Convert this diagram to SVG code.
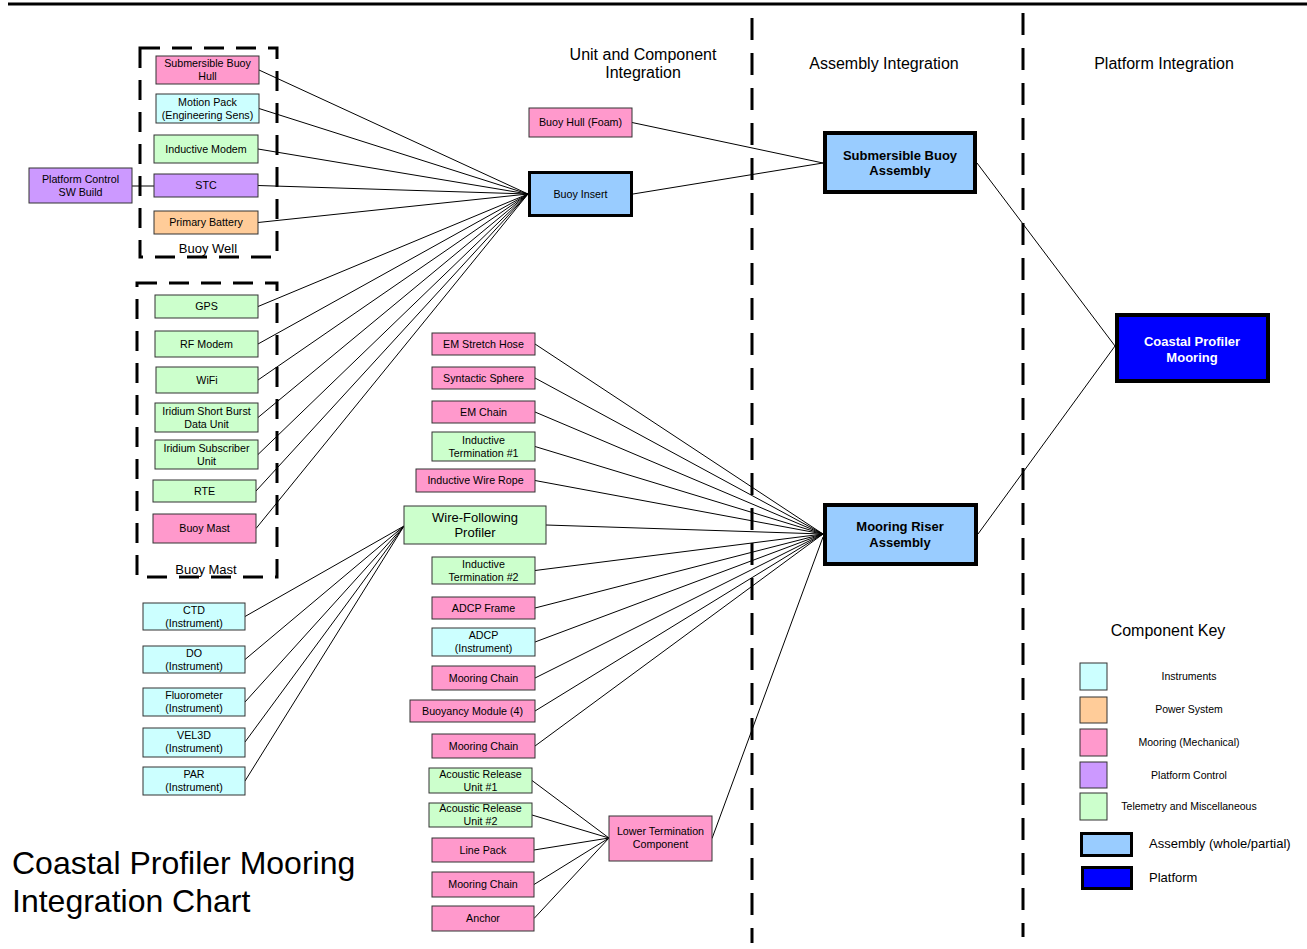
<svg xmlns="http://www.w3.org/2000/svg" width="1307" height="949" viewBox="0 0 1307 949">
<style>
text{font-family:"Liberation Sans",Arial,sans-serif;fill:#000}
.s{font-size:10.7px;text-anchor:middle}
.m{font-size:13px;text-anchor:middle}
.b{font-size:13px;font-weight:bold;text-anchor:middle}
.h{font-size:16px;text-anchor:middle}
.k{font-size:10.5px;text-anchor:middle}
.n{stroke:#333;stroke-width:1}
.t3{stroke:#000;stroke-width:3}
.t4{stroke:#000;stroke-width:4}
.pk{fill:#FF99CC}.cy{fill:#CCFFFF}.gr{fill:#CCFFCC}.pu{fill:#CC99FF}.or{fill:#FFCC99}.lb{fill:#99CCFF}.bl{fill:#0000FF}
.dash{fill:none;stroke:#000;stroke-width:3;stroke-dasharray:22 13}
.bdash{fill:none;stroke:#000;stroke-width:3;stroke-dasharray:20 12}
#connectors line{stroke:#000;stroke-width:1}
</style>
<rect width="1307" height="949" fill="#fff"/>
<g id="frame">
<line x1="8" y1="4" x2="1307" y2="4" stroke="#000" stroke-width="3"/>
<line class="dash" x1="752" y1="18" x2="752" y2="943"/>
<line class="dash" x1="1023" y1="13" x2="1023" y2="937"/>
<rect class="bdash" x="140" y="48" width="137" height="209"/>
<rect class="bdash" x="137" y="283" width="140" height="294"/>
<text class="m" x="208" y="253">Buoy Well</text>
<text class="m" x="206" y="574">Buoy Mast</text>
<text class="h" x="643" y="60">Unit and Component</text>
<text class="h" x="643" y="78">Integration</text>
<text class="h" x="884" y="69">Assembly Integration</text>
<text class="h" x="1164" y="69">Platform Integration</text>
<text x="12" y="874" font-size="32">Coastal Profiler Mooring</text>
<text x="12" y="912" font-size="32">Integration Chart</text>
</g>
<g id="connectors">
<line x1="132" y1="186" x2="154" y2="186"/>
<line x1="259" y1="70" x2="528" y2="194"/>
<line x1="259" y1="108.5" x2="528" y2="194"/>
<line x1="258" y1="149" x2="528" y2="194"/>
<line x1="258" y1="185.5" x2="528" y2="194"/>
<line x1="258" y1="222.5" x2="528" y2="194"/>
<line x1="258" y1="306.5" x2="528" y2="194"/>
<line x1="258" y1="344" x2="528" y2="194"/>
<line x1="258" y1="380" x2="528" y2="194"/>
<line x1="258" y1="417.5" x2="528" y2="194"/>
<line x1="258" y1="454.5" x2="528" y2="194"/>
<line x1="256" y1="491" x2="528" y2="194"/>
<line x1="256" y1="528.5" x2="528" y2="194"/>
<line x1="632" y1="122.5" x2="823" y2="163"/>
<line x1="633" y1="194" x2="823" y2="163"/>
<line x1="977" y1="163" x2="1115" y2="346"/>
<line x1="978" y1="534" x2="1115" y2="346"/>
<line x1="535" y1="344" x2="823" y2="534"/>
<line x1="535" y1="378" x2="823" y2="534"/>
<line x1="535" y1="412" x2="823" y2="534"/>
<line x1="535" y1="446.5" x2="823" y2="534"/>
<line x1="535" y1="480.5" x2="823" y2="534"/>
<line x1="546" y1="525" x2="823" y2="534"/>
<line x1="535" y1="570.5" x2="823" y2="534"/>
<line x1="535" y1="608" x2="823" y2="534"/>
<line x1="535" y1="642" x2="823" y2="534"/>
<line x1="535" y1="678" x2="823" y2="534"/>
<line x1="535" y1="711" x2="823" y2="534"/>
<line x1="535" y1="746" x2="823" y2="534"/>
<line x1="712" y1="838.5" x2="823" y2="537"/>
<line x1="532" y1="780.5" x2="609" y2="838"/>
<line x1="532" y1="815" x2="609" y2="838"/>
<line x1="534" y1="850" x2="609" y2="838"/>
<line x1="534" y1="884.5" x2="609" y2="838"/>
<line x1="534" y1="918.5" x2="609" y2="838"/>
<line x1="245" y1="616.5" x2="404" y2="526"/>
<line x1="245" y1="659.5" x2="404" y2="526"/>
<line x1="245" y1="702" x2="404" y2="526"/>
<line x1="245" y1="742" x2="404" y2="526"/>
<line x1="245" y1="781" x2="404" y2="526"/>
</g>
<g id="n-sbh"><rect class="n pk" x="156" y="56" width="103" height="28"/><text class="s" x="207.5" y="67.3">Submersible Buoy</text><text class="s" x="207.5" y="80.3">Hull</text></g>
<g id="n-mp"><rect class="n cy" x="156" y="94" width="103" height="29"/><text class="s" x="207.5" y="105.8">Motion Pack</text><text class="s" x="207.5" y="118.8">(Engineering Sens)</text></g>
<g id="n-im"><rect class="n gr" x="154" y="135" width="104" height="28"/><text class="s" x="206" y="152.8">Inductive Modem</text></g>
<g id="n-stc"><rect class="n pu" x="154" y="174" width="104" height="23"/><text class="s" x="206" y="189.3">STC</text></g>
<g id="n-pb"><rect class="n or" x="154" y="211" width="104" height="23"/><text class="s" x="206" y="226.3">Primary Battery</text></g>
<g id="n-pcsw"><rect class="n pu" x="29" y="168" width="103" height="35"/><text class="s" x="80.5" y="182.8">Platform Control</text><text class="s" x="80.5" y="195.8">SW Build</text></g>
<g id="n-gps"><rect class="n gr" x="155" y="295" width="103" height="23"/><text class="s" x="206.5" y="310.3">GPS</text></g>
<g id="n-rf"><rect class="n gr" x="155" y="331" width="103" height="26"/><text class="s" x="206.5" y="347.8">RF Modem</text></g>
<g id="n-wifi"><rect class="n gr" x="156" y="367" width="102" height="26"/><text class="s" x="207" y="383.8">WiFi</text></g>
<g id="n-isbd"><rect class="n gr" x="155" y="403" width="103" height="29"/><text class="s" x="206.5" y="414.8">Iridium Short Burst</text><text class="s" x="206.5" y="427.8">Data Unit</text></g>
<g id="n-isu"><rect class="n gr" x="155" y="440" width="103" height="29"/><text class="s" x="206.5" y="451.8">Iridium Subscriber</text><text class="s" x="206.5" y="464.8">Unit</text></g>
<g id="n-rte"><rect class="n gr" x="153" y="480" width="103" height="22"/><text class="s" x="204.5" y="494.8">RTE</text></g>
<g id="n-bm"><rect class="n pk" x="153" y="514" width="103" height="29"/><text class="s" x="204.5" y="532.3">Buoy Mast</text></g>
<g id="n-ctd"><rect class="n cy" x="143" y="603" width="102" height="27"/><text class="s" x="194" y="613.8">CTD</text><text class="s" x="194" y="626.8">(Instrument)</text></g>
<g id="n-do"><rect class="n cy" x="143" y="646" width="102" height="27"/><text class="s" x="194" y="656.8">DO</text><text class="s" x="194" y="669.8">(Instrument)</text></g>
<g id="n-fl"><rect class="n cy" x="143" y="688" width="102" height="28"/><text class="s" x="194" y="699.3">Fluorometer</text><text class="s" x="194" y="712.3">(Instrument)</text></g>
<g id="n-vel"><rect class="n cy" x="143" y="728" width="102" height="29"/><text class="s" x="194" y="739.3">VEL3D</text><text class="s" x="194" y="752.3">(Instrument)</text></g>
<g id="n-par"><rect class="n cy" x="143" y="767" width="102" height="28"/><text class="s" x="194" y="778.3">PAR</text><text class="s" x="194" y="791.3">(Instrument)</text></g>
<g id="n-bhf"><rect class="n pk" x="529" y="108" width="103" height="29"/><text class="s" x="580.5" y="126.3">Buoy Hull (Foam)</text></g>
<g id="n-bi"><rect class="t3 lb" x="529.5" y="172.5" width="102" height="43"/><text class="s" x="580.5" y="198">Buoy Insert</text></g>
<g id="n-ems"><rect class="n pk" x="432" y="333" width="103" height="22"/><text class="s" x="483.5" y="347.8">EM Stretch Hose</text></g>
<g id="n-ss"><rect class="n pk" x="432" y="367" width="103" height="22"/><text class="s" x="483.5" y="381.8">Syntactic Sphere</text></g>
<g id="n-emc"><rect class="n pk" x="432" y="401" width="103" height="22"/><text class="s" x="483.5" y="415.8">EM Chain</text></g>
<g id="n-it1"><rect class="n gr" x="432" y="432" width="103" height="29"/><text class="s" x="483.5" y="443.8">Inductive</text><text class="s" x="483.5" y="456.8">Termination #1</text></g>
<g id="n-iwr"><rect class="n pk" x="416" y="469" width="119" height="23"/><text class="s" x="475.5" y="484.3">Inductive Wire Rope</text></g>
<g id="n-wfp"><rect class="n gr" x="404" y="506" width="142" height="38"/><text class="m" x="475" y="521.5">Wire-Following</text><text class="m" x="475" y="536.5">Profiler</text></g>
<g id="n-it2"><rect class="n gr" x="432" y="557" width="103" height="27"/><text class="s" x="483.5" y="567.8">Inductive</text><text class="s" x="483.5" y="580.8">Termination #2</text></g>
<g id="n-adf"><rect class="n pk" x="432" y="597" width="103" height="22"/><text class="s" x="483.5" y="611.8">ADCP Frame</text></g>
<g id="n-adcp"><rect class="n cy" x="432" y="628" width="103" height="28"/><text class="s" x="483.5" y="639.3">ADCP</text><text class="s" x="483.5" y="652.3">(Instrument)</text></g>
<g id="n-mc1"><rect class="n pk" x="432" y="666" width="103" height="24"/><text class="s" x="483.5" y="681.8">Mooring Chain</text></g>
<g id="n-bmod"><rect class="n pk" x="410" y="700" width="125" height="22"/><text class="s" x="472.5" y="714.8">Buoyancy Module (4)</text></g>
<g id="n-mc2"><rect class="n pk" x="432" y="734" width="103" height="24"/><text class="s" x="483.5" y="749.8">Mooring Chain</text></g>
<g id="n-ar1"><rect class="n gr" x="429" y="768" width="103" height="25"/><text class="s" x="480.5" y="777.8">Acoustic Release</text><text class="s" x="480.5" y="790.8">Unit #1</text></g>
<g id="n-ar2"><rect class="n gr" x="429" y="803" width="103" height="24"/><text class="s" x="480.5" y="812.3">Acoustic Release</text><text class="s" x="480.5" y="825.3">Unit #2</text></g>
<g id="n-lp"><rect class="n pk" x="432" y="838" width="102" height="24"/><text class="s" x="483" y="853.8">Line Pack</text></g>
<g id="n-mc3"><rect class="n pk" x="432" y="872" width="102" height="25"/><text class="s" x="483" y="888.3">Mooring Chain</text></g>
<g id="n-anc"><rect class="n pk" x="432" y="906" width="102" height="25"/><text class="s" x="483" y="922.3">Anchor</text></g>
<g id="n-ltc"><rect class="n pk" x="609" y="816" width="103" height="45"/><text class="s" x="660.5" y="835.3">Lower Termination</text><text class="s" x="660.5" y="848.3">Component</text></g>
<g id="n-sba"><rect class="t4 lb" x="825" y="133" width="150" height="59"/><text class="b" x="900" y="159.5">Submersible Buoy</text><text class="b" x="900" y="175">Assembly</text></g>
<g id="n-mra"><rect class="t4 lb" x="825" y="505" width="151" height="59"/><text class="b" x="900" y="531">Mooring Riser</text><text class="b" x="900" y="546.5">Assembly</text></g>
<g id="n-cpm"><rect class="t4 bl" x="1117" y="315" width="151" height="66"/><text class="b" x="1192" y="345.5" style="fill:#fff">Coastal Profiler</text><text class="b" x="1192" y="361.5" style="fill:#fff">Mooring</text></g>
<g id="key">
<text class="h" x="1168" y="636">Component Key</text>
<rect class="n cy" x="1080" y="663" width="27" height="27"/><text class="k" x="1189" y="680">Instruments</text>
<rect class="n or" x="1080" y="697" width="27" height="26"/><text class="k" x="1189" y="713">Power System</text>
<rect class="n pk" x="1080" y="729" width="27" height="27"/><text class="k" x="1189" y="746">Mooring (Mechanical)</text>
<rect class="n pu" x="1080" y="762" width="27" height="26"/><text class="k" x="1189" y="779">Platform Control</text>
<rect class="n gr" x="1080" y="793" width="27" height="27"/><text class="k" x="1189" y="810">Telemetry and Miscellaneous</text>
<rect class="t3 lb" x="1081.5" y="833.5" width="50" height="22"/><text x="1149" y="848" font-size="13">Assembly (whole/partial)</text>
<rect class="t3 bl" x="1082.5" y="867.5" width="49" height="21"/><text x="1149" y="882" font-size="13">Platform</text>
</g>
</svg>
